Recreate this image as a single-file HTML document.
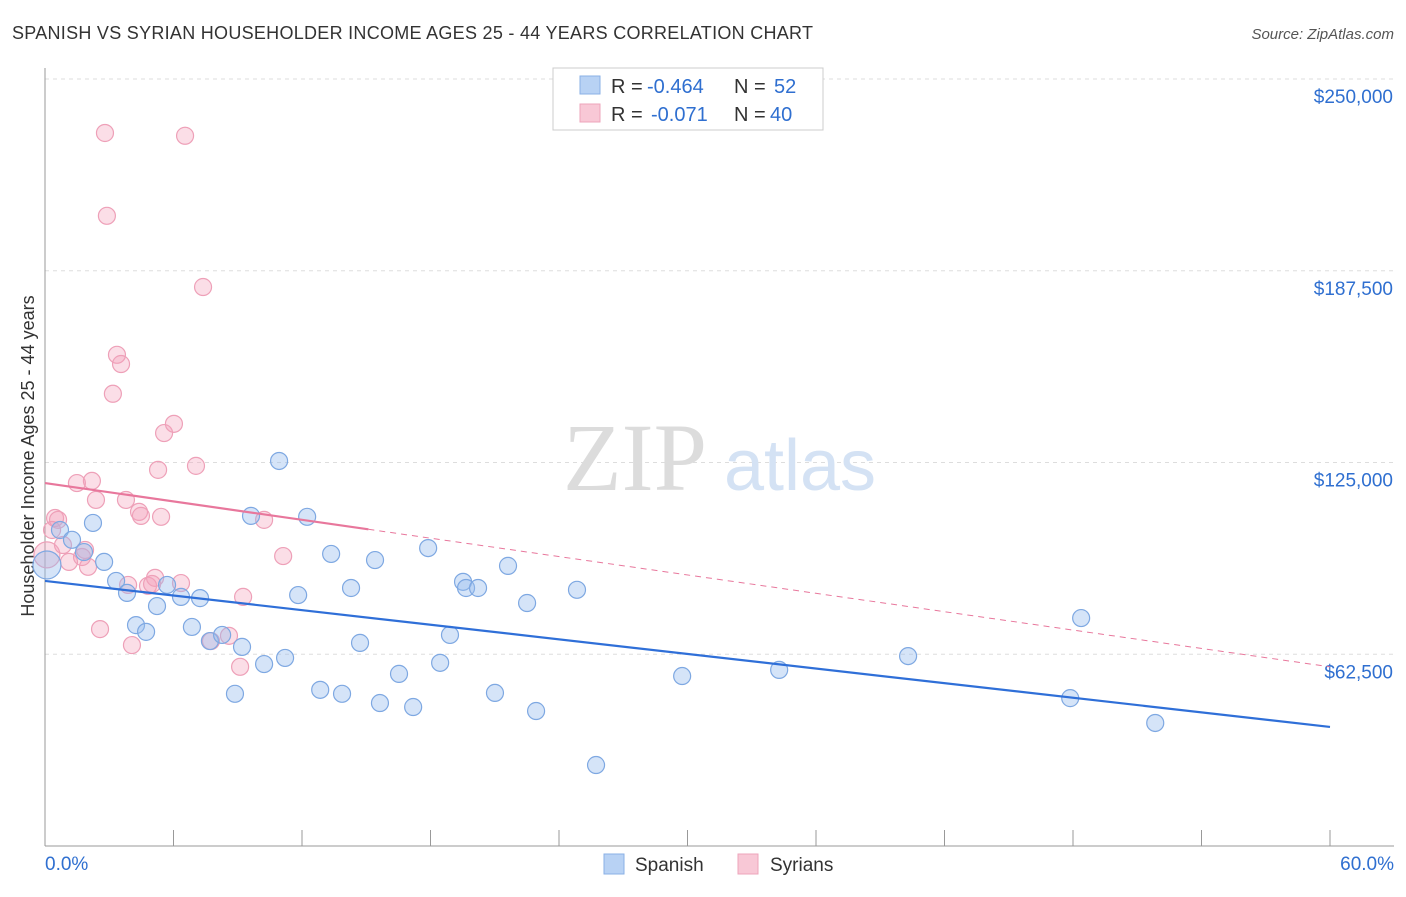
<!DOCTYPE html>
<html><head><meta charset="utf-8"><style>
body{margin:0;background:#fff;font-family:"Liberation Sans",sans-serif}
</style></head><body>
<svg width="1406" height="892" viewBox="0 0 1406 892" xmlns="http://www.w3.org/2000/svg" font-family="Liberation Sans, sans-serif">
<text x="12" y="39" font-size="18" fill="#333" textLength="801" lengthAdjust="spacing">SPANISH VS SYRIAN HOUSEHOLDER INCOME AGES 25 - 44 YEARS CORRELATION CHART</text>
<text x="1394" y="39" font-size="15" fill="#555" text-anchor="end" font-style="italic">Source: ZipAtlas.com</text>
<g id="grid"></g>
<g>
<text x="635" y="490" font-size="96" fill="#dcdcdc" text-anchor="middle" font-family="Liberation Serif, serif">ZIP</text>
<text x="800" y="490" font-size="72" fill="#d4e2f4" text-anchor="middle">atlas</text>
</g>
<text transform="translate(34,456) rotate(-90)" font-size="18" fill="#333" text-anchor="middle">Householder Income Ages 25 - 44 years</text>
<g id="marks"></g>
<g>
<rect x="553" y="68" width="270" height="62" fill="#fff" stroke="#ccc"/>
<rect x="580" y="76" width="20" height="18" fill="#b8d2f4" stroke="#8ab0e6"/>
<rect x="580" y="104" width="20" height="18" fill="#f8c8d6" stroke="#eea4bb"/>
<text x="611" y="93" font-size="20" fill="#333">R =</text>
<text x="647" y="93" font-size="20" fill="#2f6fd0">-0.464</text>
<text x="734" y="93" font-size="20" fill="#333">N =</text>
<text x="774" y="93" font-size="20" fill="#2f6fd0">52</text>
<text x="611" y="121" font-size="20" fill="#333">R =</text>
<text x="651" y="121" font-size="20" fill="#2f6fd0">-0.071</text>
<text x="734" y="121" font-size="20" fill="#333">N =</text>
<text x="770" y="121" font-size="20" fill="#2f6fd0">40</text>
</g>
<g>
<rect x="604" y="854" width="20" height="20" fill="#b8d2f4" stroke="#8ab0e6"/>
<text x="635" y="871" font-size="19" fill="#333">Spanish</text>
<rect x="738" y="854" width="20" height="20" fill="#f8c8d6" stroke="#eea4bb"/>
<text x="770" y="871" font-size="19" fill="#333">Syrians</text>
</g>
</svg>
<script>
const blueX=[0.09,0.70,1.26,2.24,2.76,1.82,3.32,3.83,4.25,4.72,5.23,5.70,6.35,6.86,7.24,7.70,8.27,8.87,9.20,9.62,10.23,10.93,11.21,11.82,12.24,12.85,13.36,13.87,14.29,14.71,15.41,15.64,16.53,17.19,17.89,18.45,18.91,19.52,19.66,20.22,21.01,21.62,22.51,22.93,24.84,25.73,29.75,34.28,40.30,47.87,48.38,51.84];
const blueY=[91.6,103.0,99.8,105.3,92.6,95.8,86.4,82.5,72.0,69.8,78.2,85.1,81.2,71.4,80.8,66.8,68.8,49.6,64.9,107.6,59.3,125.5,61.3,81.8,107.3,50.9,95.2,49.6,84.1,66.2,93.2,46.6,56.1,45.3,97.1,59.7,68.8,86.1,84.1,84.1,49.9,91.3,79.2,44.0,83.5,26.4,55.4,57.4,61.9,48.2,74.3,40.1];
const pinkX=[0.09,0.47,0.61,0.84,1.12,1.49,1.87,2.01,2.19,2.38,2.57,2.80,2.89,3.17,3.36,3.55,3.78,3.88,4.06,4.39,4.48,4.81,5.14,5.28,5.42,5.56,6.02,6.35,6.54,7.05,7.38,7.75,8.59,9.11,9.25,10.23,11.12,0.33,1.73,5.00];
const pinkY=[94.9,106.9,106.3,98.1,92.6,118.3,96.5,91.0,119.0,112.8,70.7,232.4,205.4,147.4,160.1,157.1,112.8,85.1,65.5,108.9,107.6,84.8,87.4,122.6,107.3,134.6,137.6,85.7,231.5,123.9,182.2,66.8,68.5,58.4,81.2,106.3,94.5,103.0,94.2,85.4];
const blueTrend=[86.4,38.8];
const pinkTrend=[118.3,58.4];
const pinkSolidEnd=15.1;
const yTicks=[62500,125000,187500,250000];
const yTickLabels=["$62,500","$125,000","$187,500","$250,000"];
const xTickCount=10;
const NS="http://www.w3.org/2000/svg";
const X=v=>45+v/60*1285;
const Y=v=>846-v/250*767;
function mk(t,a,p){const e=document.createElementNS(NS,t);for(const k in a)e.setAttribute(k,a[k]);p.appendChild(e);return e;}
const g=document.getElementById('grid'),m=document.getElementById('marks');
yTicks.forEach((t,i)=>{const y=Y(t/1000);
const l=mk('line',{x1:45,x2:1394,y1:y,y2:y,stroke:'#ddd','stroke-dasharray':'4,4'},g);


const tx=mk('text',{x:1393,y:y+24,'font-size':19,fill:'#2f6fd0','text-anchor':'end'},g);tx.textContent=yTickLabels[i];

});
const ax=mk('line',{x1:45,x2:45,y1:68,y2:846,stroke:'#999'},g);


const bx=mk('line',{x1:45,x2:1394,y1:846,y2:846,stroke:'#999'},g);


for(let i=0;i<=xTickCount;i++){const x=X(i*60/xTickCount);const t=mk('line',{x1:x,x2:x,y1:830,y2:846,stroke:'#999'},g);

}
const x0=mk('text',{x:45,y:870,'font-size':19,fill:'#2f6fd0'},g);x0.textContent='0.0%';


const x1=mk('text',{x:1394,y:870,'font-size':19,fill:'#2f6fd0','text-anchor':'end'},g);x1.textContent='60.0%';


pinkX.forEach((v,i)=>{const c=mk('circle',{cx:X(v),cy:Y(pinkY[i]),r:i==0?13:8.5,fill:'rgba(244,160,186,0.35)',stroke:'#eea0b8','stroke-width':1.2},m);

});
blueX.forEach((v,i)=>{const c=mk('circle',{cx:X(v),cy:Y(blueY[i]),r:i==0?14:8.5,fill:'rgba(150,188,238,0.4)',stroke:'#7ea8e2','stroke-width':1.2},m);

});
const bt=mk('line',{x1:X(0),y1:Y(blueTrend[0]),x2:X(60),y2:Y(blueTrend[1]),stroke:'#2f6fd8','stroke-width':2.2},m);


const py=v=>pinkTrend[0]+(pinkTrend[1]-pinkTrend[0])*v/60;
const ps=mk('line',{x1:X(0),y1:Y(py(0)),x2:X(pinkSolidEnd),y2:Y(py(pinkSolidEnd)),stroke:'#e8779c','stroke-width':2.2},m);


const pd=mk('line',{x1:X(pinkSolidEnd),y1:Y(py(pinkSolidEnd)),x2:X(60),y2:Y(py(60)),stroke:'#e8779c','stroke-width':1,'stroke-dasharray':'6,5'},m);


</script>
</body></html>
